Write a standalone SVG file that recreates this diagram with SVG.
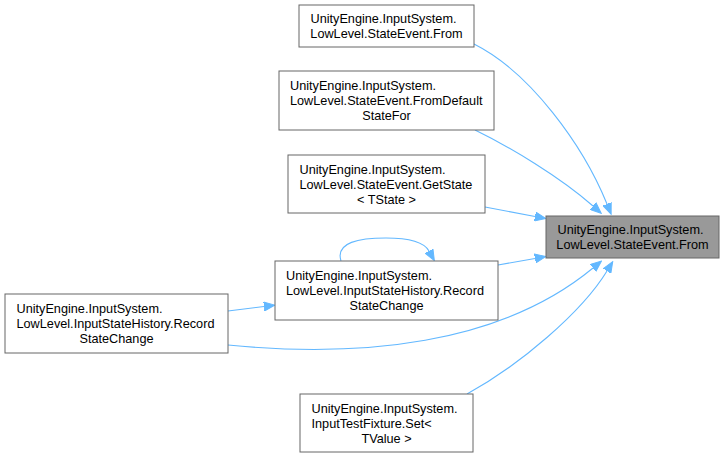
<svg xmlns="http://www.w3.org/2000/svg" width="726" height="459" viewBox="0 0 726 459">
<style>
.n rect{fill:#fff;stroke:#666;stroke-width:1}
.n.t rect{fill:#999}
text{font-family:"Liberation Sans",Arial,sans-serif;font-size:12.7px;fill:#000}
.c{text-anchor:middle}
.e path{fill:none;stroke:#63b8ff;stroke-width:1.1}
</style>
<defs>
<marker id="a" markerWidth="12" markerHeight="10" refX="0" refY="5" orient="auto" markerUnits="userSpaceOnUse">
<path d="M0,0.5 L11,5 L0,9.5 Z" fill="#63b8ff" stroke="#63b8ff"/>
</marker>
</defs>
<g id="edges" class="e">
<path d="M474,44 C530,72 583,145 607,204" marker-end="url(#a)"/>
<path d="M475,130 C510,147 560,177 593,206" marker-end="url(#a)"/>
<path d="M485,207 L535,216.5" marker-end="url(#a)"/>
<path d="M498,265 L535,258.5" marker-end="url(#a)"/>
<path d="M228,311 L264,306.5" marker-end="url(#a)"/>
<path d="M228,345 C360,358 500,345 593,268" marker-end="url(#a)"/>
<path d="M467,394 C520,365 582,312 607,271" marker-end="url(#a)"/>
<path d="M341,261 C335,242 360,238 386,238 C410,238 424,242 429,251" marker-end="url(#a)"/>
</g>
<g id="node_target" class="n t">
<rect x="546" y="216" width="173" height="42"/>
<text x="557.5" y="234">UnityEngine.InputSystem.</text>
<text x="632.5" y="249" class="c">LowLevel.StateEvent.From</text>
</g>
<g id="node_from" class="n">
<rect x="299" y="5" width="175" height="42"/>
<text x="310.5" y="23">UnityEngine.InputSystem.</text>
<text x="386.5" y="38" class="c">LowLevel.StateEvent.From</text>
</g>
<g id="node_fromdefault" class="n">
<rect x="279" y="71" width="215" height="59"/>
<text x="290" y="90">UnityEngine.InputSystem.</text>
<text x="290" y="105">LowLevel.StateEvent.FromDefault</text>
<text x="386.5" y="120" class="c">StateFor</text>
</g>
<g id="node_getstate" class="n">
<rect x="288" y="155" width="197" height="58"/>
<text x="299.5" y="173.5">UnityEngine.InputSystem.</text>
<text x="299.5" y="188.5">LowLevel.StateEvent.GetState</text>
<text x="386.5" y="203.5" class="c">&lt; TState &gt;</text>
</g>
<g id="node_record" class="n">
<rect x="275" y="261" width="223" height="59"/>
<text x="286" y="280">UnityEngine.InputSystem.</text>
<text x="286" y="295">LowLevel.InputStateHistory.Record</text>
<text x="386.5" y="310" class="c">StateChange</text>
</g>
<g id="node_record2" class="n">
<rect x="5" y="294" width="223" height="59"/>
<text x="16.5" y="313">UnityEngine.InputSystem.</text>
<text x="16.5" y="328">LowLevel.InputStateHistory.Record</text>
<text x="116.5" y="343" class="c">StateChange</text>
</g>
<g id="node_set" class="n">
<rect x="300" y="394" width="173" height="58"/>
<text x="311.5" y="412.5">UnityEngine.InputSystem.</text>
<text x="311.5" y="427.5">InputTestFixture.Set&lt;</text>
<text x="386.5" y="442.5" class="c">TValue &gt;</text>
</g>
</svg>
